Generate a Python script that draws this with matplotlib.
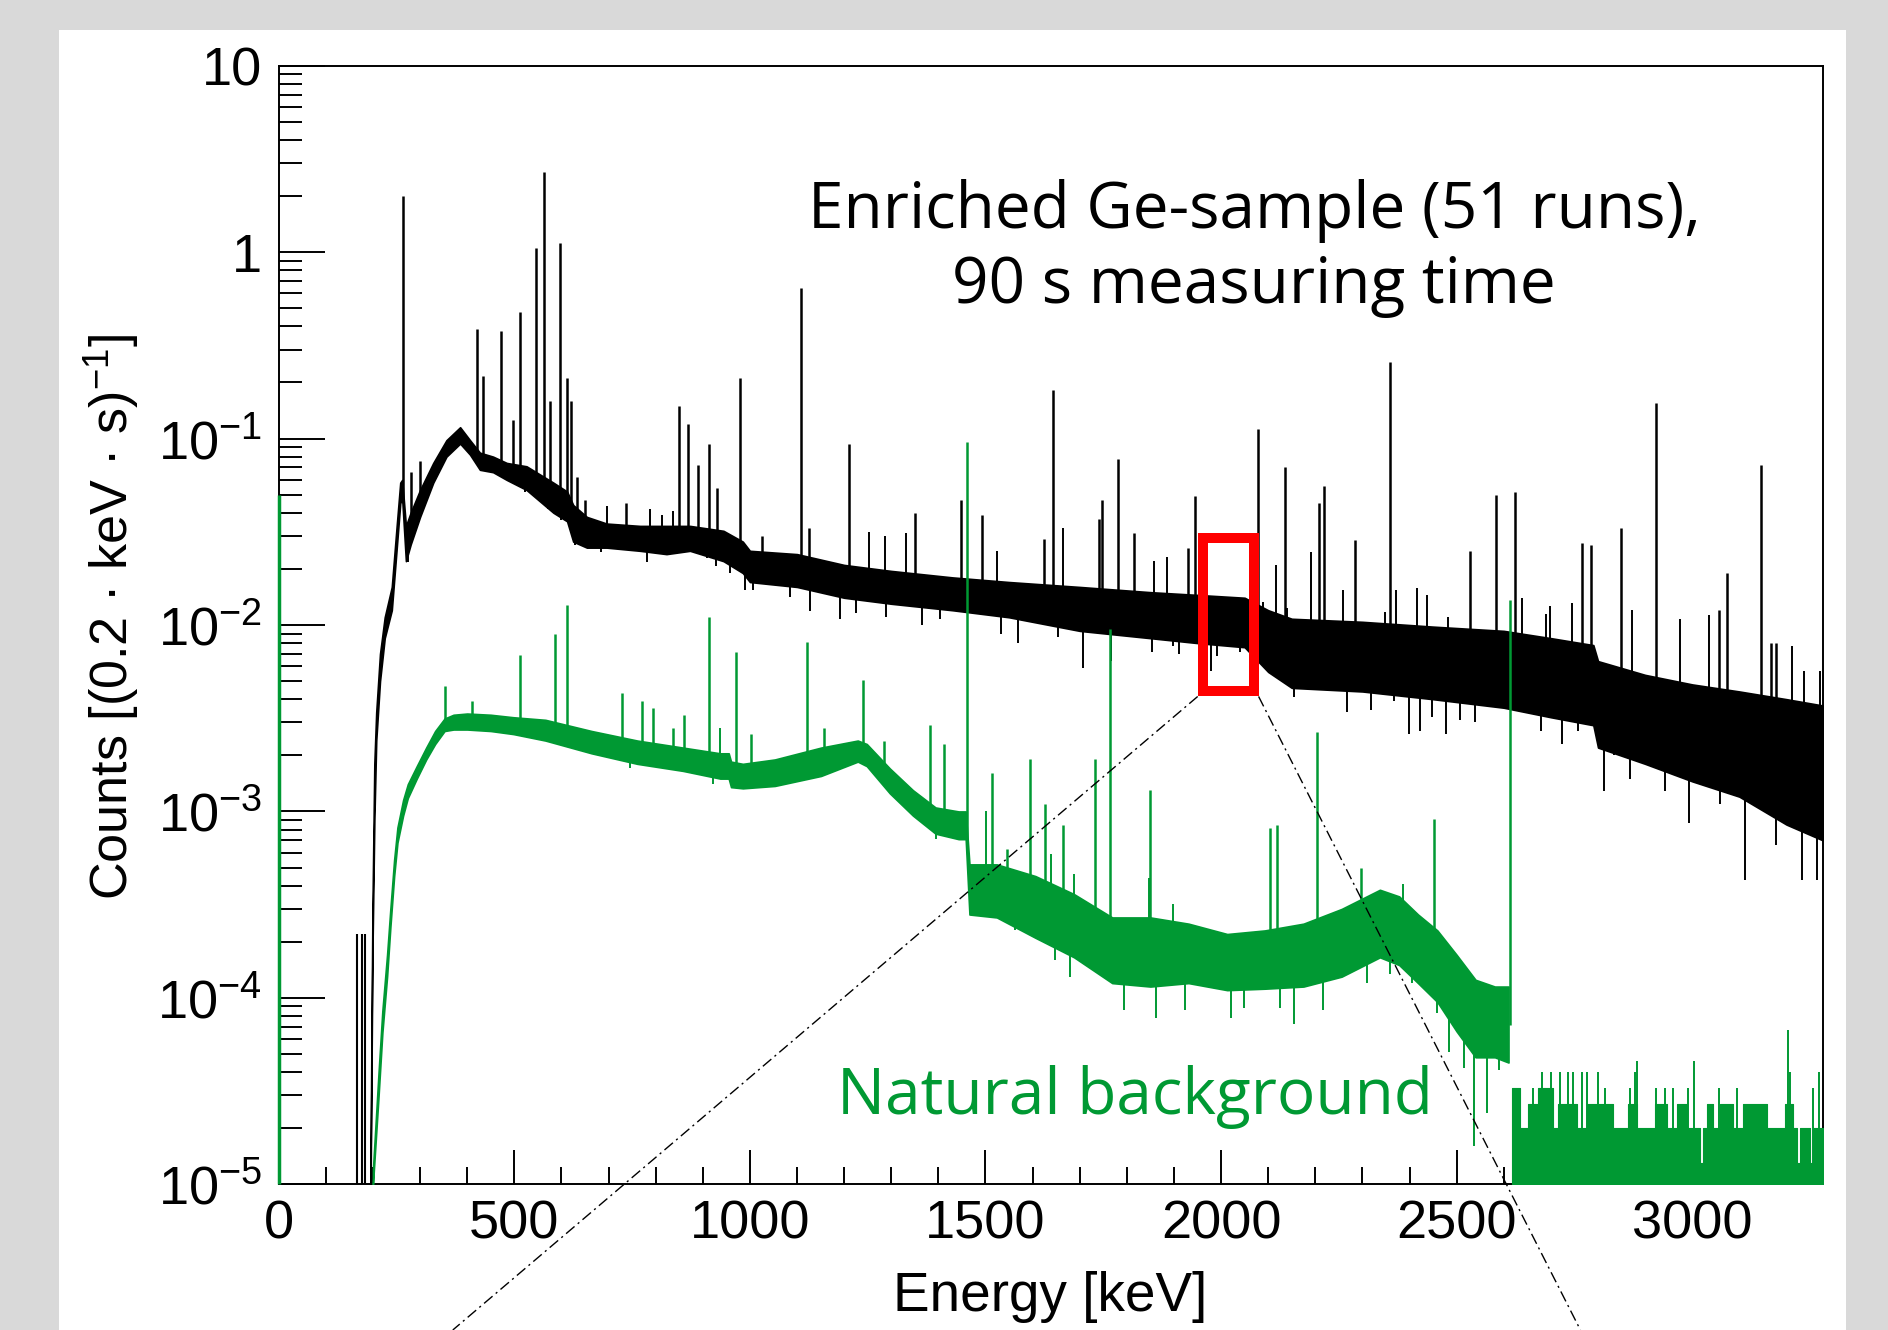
import numpy as np
import matplotlib
matplotlib.use('Agg')
import matplotlib.pyplot as plt
from matplotlib.patches import Rectangle
from matplotlib.lines import Line2D
from matplotlib.ticker import FixedLocator, FixedFormatter, MultipleLocator, LogLocator, NullFormatter

plt.rcParams['font.family'] = ['Liberation Sans', 'DejaVu Sans']
plt.rcParams['mathtext.fontset'] = 'custom'
plt.rcParams['mathtext.rm'] = 'Liberation Sans'
plt.rcParams['mathtext.it'] = 'Liberation Sans:italic'
plt.rcParams['mathtext.bf'] = 'Liberation Sans:bold'

GREEN = '#009933'

# --- enriched Ge sample: continuum band (keV, lower / upper edge of the dense band)
black_e = [195, 199, 203, 207, 215, 225, 240, 250, 258, 262, 270, 280, 300, 328, 356, 385,
           406, 427, 455, 484, 526, 583, 612, 625, 654, 696, 767, 823, 873, 944, 985, 1000,
           1100, 1200, 1300, 1430, 1550, 1700, 1850, 1950, 2050, 2100, 2150, 2300, 2450,
           2600, 2700, 2790, 2800, 2900, 3000, 3100, 3200, 3277]
black_lo = [1.0e-5, 1.8e-4, 9e-4, 2.4e-3, 5e-3, 8.5e-3, 1.2e-2, 2.5e-2, 4.5e-2, 4.8e-2, 2.2e-2,
            2.7e-2, 3.8e-2, 5.8e-2, 8.0e-2, 9.4e-2, 8.2e-2, 6.8e-2, 6.6e-2, 6.0e-2, 5.3e-2,
            4.0e-2, 3.6e-2, 2.8e-2, 2.6e-2, 2.6e-2, 2.5e-2, 2.4e-2, 2.5e-2, 2.2e-2, 1.9e-2,
            1.7e-2, 1.6e-2, 1.4e-2, 1.3e-2, 1.2e-2, 1.1e-2, 9.3e-3, 8.5e-3, 8.0e-3, 7.6e-3,
            5.6e-3, 4.6e-3, 4.4e-3, 4.0e-3, 3.6e-3, 3.2e-3, 2.9e-3, 2.2e-3, 1.8e-3, 1.45e-3,
            1.2e-3, 8.5e-4, 7.0e-4]
black_hi = [1.4e-5, 3.0e-4, 1.8e-3, 3.4e-3, 7e-3, 1.1e-2, 1.6e-2, 3.3e-2, 5.8e-2, 6.0e-2, 3.4e-2,
            4.0e-2, 5.3e-2, 7.4e-2, 9.8e-2, 0.115, 9.8e-2, 8.4e-2, 8.0e-2, 7.4e-2, 7.1e-2,
            5.8e-2, 5.2e-2, 4.4e-2, 3.8e-2, 3.5e-2, 3.4e-2, 3.4e-2, 3.4e-2, 3.2e-2, 2.8e-2,
            2.5e-2, 2.4e-2, 2.1e-2, 1.95e-2, 1.8e-2, 1.7e-2, 1.6e-2, 1.5e-2, 1.45e-2, 1.4e-2,
            1.2e-2, 1.08e-2, 1.04e-2, 9.8e-3, 9.3e-3, 8.5e-3, 7.8e-3, 6.4e-3, 5.4e-3, 4.8e-3,
            4.4e-3, 4.0e-3, 3.7e-3]

# gamma lines on top of the enriched sample continuum (keV, peak height)
black_peak_e = [264, 280, 300, 420, 434, 471, 497, 512, 547, 564, 576, 597, 611, 620, 634, 650,
                738, 850, 869, 890, 913, 931, 979, 1025, 1109, 1126, 1210, 1351, 1447, 1492,
                1625, 1643, 1740, 1748, 1781, 1815, 1930, 1944, 2078, 2135, 2208, 2219, 2285,
                2358, 2528, 2583, 2623, 2766, 2786, 2849, 2923, 3057, 3074, 3146, 3167, 3177]
black_peak_h = [2.0, 0.066, 0.076, 0.385, 0.216, 0.377, 0.125, 0.48, 1.05, 2.7, 0.16, 1.12, 0.21,
                0.16, 0.062, 0.047, 0.045, 0.15, 0.12, 0.072, 0.094, 0.054, 0.21, 0.030, 0.64,
                0.033, 0.094, 0.040, 0.047, 0.039, 0.029, 0.183, 0.037, 0.047, 0.078, 0.031,
                0.026, 0.049, 0.112, 0.070, 0.045, 0.056, 0.0285, 0.258, 0.025, 0.050, 0.052,
                0.0275, 0.027, 0.033, 0.155, 0.012, 0.019, 0.0725, 0.008, 0.008]

# statistical fluctuations poking out of the band (keV, tip value)
black_noise_e = [275, 523, 572, 600, 629, 685, 697, 781, 789, 813, 837, 908, 929, 958, 990, 1007,
                 1085, 1127, 1191, 1225, 1252, 1286, 1289, 1331, 1365, 1403, 1525, 1532, 1570,
                 1654, 1665, 1707, 1767, 1854, 1858, 1885, 1899, 1911, 1979, 1991, 2040, 2089,
                 2116, 2138, 2139, 2154, 2190, 2204, 2230, 2259, 2268, 2318, 2348, 2368, 2372,
                 2398, 2416, 2423, 2438, 2448, 2478, 2481, 2508, 2538, 2638, 2648, 2678, 2690,
                 2698, 2723, 2745, 2757, 2813, 2833, 2857, 2868, 2873, 2898, 2943, 2968, 2975,
                 2993, 3018, 3036, 3058, 3087, 3111, 3148, 3177, 3207, 3212, 3232, 3237, 3247,
                 3265, 3272]
black_noise_v = [0.0217, 0.0517, 0.042, 0.0366, 0.0268, 0.0245, 0.0435, 0.0217, 0.042, 0.039,
                 0.041, 0.0228, 0.0206, 0.019, 0.0154, 0.0154, 0.0142, 0.0119, 0.0108, 0.0116,
                 0.0316, 0.030, 0.011, 0.031, 0.0100, 0.0108, 0.025, 0.0090, 0.0080, 0.0086,
                 0.033, 0.0059, 0.0064, 0.0072, 0.0221, 0.0233, 0.0077, 0.0070, 0.0057, 0.0068,
                 0.0072, 0.0133, 0.021, 0.0068, 0.0124, 0.0041, 0.0245, 0.0049, 0.0049, 0.0154,
                 0.0034, 0.0035, 0.0117, 0.0039, 0.0154, 0.0026, 0.0158, 0.0027, 0.0145, 0.0032,
                 0.0026, 0.0111, 0.0031, 0.0030, 0.014, 0.0036, 0.0027, 0.0115, 0.0126, 0.0023,
                 0.0131, 0.0027, 0.00129, 0.0020, 0.0020, 0.0015, 0.012, 0.0023, 0.00129, 0.0017,
                 0.0108, 0.00087, 0.00175, 0.0113, 0.0011, 0.00127, 4.3e-4, 0.0012, 6.6e-4,
                 9.2e-4, 0.0077, 4.3e-4, 0.0057, 7.7e-4, 4.3e-4, 0.0057]

# isolated low-energy bins of the enriched sample
black_low_e = [166, 176, 184]
black_low_h = [2.2e-4, 2.2e-4, 2.2e-4]

# --- natural background: continuum band
green_e = [200, 212, 220, 230, 237, 245, 252, 264, 274, 293, 313, 332, 352, 371, 400, 450, 498,
           566, 664, 761, 858, 937, 955, 960, 985, 1053, 1151, 1229, 1248, 1297, 1346, 1394,
           1443, 1458, 1466, 1524, 1606, 1688, 1769, 1850, 1931, 2013, 2093, 2175, 2256, 2337,
           2378, 2418, 2459, 2500, 2540, 2581, 2610]
green_lo = [1.0e-5, 3e-5, 6.5e-5, 1.3e-4, 2.4e-4, 4.5e-4, 6.8e-4, 9.5e-4, 1.18e-3, 1.5e-3, 1.9e-3,
            2.3e-3, 2.7e-3, 2.75e-3, 2.75e-3, 2.7e-3, 2.6e-3, 2.4e-3, 2.05e-3, 1.8e-3, 1.65e-3,
            1.5e-3, 1.5e-3, 1.35e-3, 1.33e-3, 1.37e-3, 1.55e-3, 1.85e-3, 1.75e-3, 1.25e-3, 9.5e-4,
            7.6e-4, 7.1e-4, 7.1e-4, 2.8e-4, 2.7e-4, 2.1e-4, 1.65e-4, 1.2e-4, 1.15e-4, 1.2e-4,
            1.1e-4, 1.12e-4, 1.15e-4, 1.3e-4, 1.65e-4, 1.5e-4, 1.2e-4, 9.5e-5, 6.6e-5, 4.8e-5,
            4.8e-5, 4.5e-5]
green_hi = [1.2e-5, 4e-5, 8.5e-5, 1.7e-4, 3.0e-4, 5.5e-4, 8.2e-4, 1.15e-3, 1.4e-3, 1.75e-3, 2.2e-3,
            2.7e-3, 3.15e-3, 3.3e-3, 3.35e-3, 3.3e-3, 3.2e-3, 3.1e-3, 2.7e-3, 2.4e-3, 2.2e-3,
            2.05e-3, 2.05e-3, 1.85e-3, 1.8e-3, 1.9e-3, 2.2e-3, 2.4e-3, 2.3e-3, 1.7e-3, 1.3e-3,
            1.05e-3, 1.0e-3, 1.0e-3, 5.2e-4, 5.2e-4, 4.5e-4, 3.6e-4, 2.7e-4, 2.7e-4, 2.5e-4,
            2.2e-4, 2.3e-4, 2.5e-4, 3.0e-4, 3.8e-4, 3.5e-4, 2.8e-4, 2.3e-4, 1.7e-4, 1.25e-4,
            1.15e-4, 1.15e-4]

green_peak_e = [352, 410, 512, 586, 611, 728, 771, 795, 837, 861, 914, 971, 1002, 1121, 1158,
                1239, 1285, 1382, 1411, 1461, 1513, 1546, 1594, 1627, 1665, 1733, 1764, 1850,
                2103, 2118, 2204, 2297, 2451, 2614]
green_peak_h = [4.7e-3, 3.9e-3, 6.9e-3, 8.9e-3, 1.28e-2, 4.3e-3, 3.9e-3, 3.6e-3, 2.8e-3, 3.3e-3,
                1.1e-2, 7.2e-3, 2.6e-3, 8.1e-3, 2.8e-3, 5.1e-3, 2.4e-3, 2.9e-3, 2.3e-3, 0.096,
                1.6e-3, 6.3e-4, 1.9e-3, 1.1e-3, 8.5e-4, 1.9e-3, 9.5e-3, 1.3e-3, 8.2e-4, 8.5e-4,
                2.66e-3, 5e-4, 9.1e-4, 0.0137]

green_noise_e = [591, 673, 746, 873, 922, 937, 975, 1029, 1394, 1440, 1472, 1501, 1525, 1562,
                 1610, 1640, 1647, 1679, 1688, 1753, 1793, 1846, 1862, 1899, 1923, 2021, 2049,
                 2126, 2155, 2216, 2309, 2358, 2387, 2406, 2459, 2484, 2516, 2537, 2565, 2589]
green_noise_v = [2.35e-3, 2.0e-3, 1.7e-3, 1.6e-3, 1.4e-3, 2.8e-3, 1.35e-3, 1.35e-3, 7.1e-4, 7.1e-4,
                 3.0e-4, 1.0e-3, 2.8e-4, 2.3e-4, 2.1e-4, 5.9e-4, 1.6e-4, 1.3e-4, 4.6e-4, 1.35e-4,
                 8.6e-5, 4.4e-4, 7.8e-5, 3.2e-4, 8.6e-5, 7.8e-5, 8.8e-5, 8.8e-5, 7.2e-5, 8.6e-5,
                 1.2e-4, 1.35e-4, 4.1e-4, 1.2e-4, 8.3e-5, 5.1e-5, 4.2e-5, 1.6e-5, 2.4e-5, 4.1e-5]

# low-count tail of the background above 2614 keV (segment start, level)
tail_e = [2618, 2634, 2652, 2673, 2705, 2716, 2755, 2776, 2832, 2864, 2882, 2921, 2946, 2967,
          2988, 3016, 3023, 3031, 3045, 3059, 3087, 3108, 3158, 3197, 3214, 3222, 3229, 3250,
          3257, 3277]
tail_v = [3.3e-5, 2.0e-5, 2.7e-5, 3.3e-5, 2.0e-5, 2.7e-5, 2.0e-5, 2.7e-5, 2.0e-5, 2.7e-5,
          2.0e-5, 2.7e-5, 2.0e-5, 2.7e-5, 2.0e-5, 1.3e-5, 2.0e-5, 2.7e-5, 2.0e-5, 2.7e-5,
          2.0e-5, 2.7e-5, 2.0e-5, 2.7e-5, 2.0e-5, 1.3e-5, 2.0e-5, 1.3e-5, 2.0e-5, 2.0e-5]
tail_spike_e = [2663, 2682, 2700, 2719, 2737, 2747, 2765, 2776, 2800, 2815, 2868, 2878, 2883, 2924,
                2943, 2960, 2991, 3004, 3057, 3094, 3204, 3207, 3257, 3270]
tail_spike_v = [3.3e-5, 4.0e-5, 4.0e-5, 4.0e-5, 4.0e-5, 4.0e-5, 4.0e-5, 4.0e-5, 4.0e-5, 3.3e-5,
                3.3e-5, 4.0e-5, 4.6e-5, 3.3e-5, 3.3e-5, 3.3e-5, 3.3e-5, 4.6e-5, 3.3e-5, 3.3e-5,
                6.7e-5, 4.0e-5, 3.3e-5, 4.0e-5]

# region of interest box (keV, counts)
roi_e = [1961, 2069]
roi_c = [0.0044, 0.0294]

ytick_vals = [1e-5, 1e-4, 1e-3, 1e-2, 1e-1, 1, 10]
ytick_text = ['$10^{-5}$', '$10^{-4}$', '$10^{-3}$', '$10^{-2}$', '$10^{-1}$', '1', '10']

W, H = 1888, 1330
fig = plt.figure(figsize=(W / 100, H / 100), dpi=100)
fig.patch.set_facecolor('#d9d9d9')
fig.add_artist(Rectangle((59 / W, 0), (1846 - 59) / W, (H - 30) / H, transform=fig.transFigure,
                         facecolor='white', edgecolor='none', zorder=0))

ax = fig.add_axes([278.7 / W, 1 - 1184.3 / H, 1544 / W, 1118.6 / H])
ax.set_yscale('log')
ax.set_xlim(0, 3276.8)
ax.set_ylim(1e-5, 10)


def band_mid(e, lo, hi, x):
    mid = 0.5 * (np.log10(lo) + np.log10(hi))
    return 10 ** np.interp(x, e, mid)


# enriched sample
ax.fill_between(black_e, black_lo, black_hi, color='black', lw=1.2, zorder=2)
ax.vlines(black_noise_e, band_mid(black_e, black_lo, black_hi, black_noise_e), black_noise_v,
          color='black', lw=1.4, zorder=2)
ax.vlines(black_peak_e, band_mid(black_e, black_lo, black_hi, black_peak_e), black_peak_h,
          color='black', lw=1.8, zorder=2)
ax.vlines(black_low_e, 1e-5, black_low_h, color='black', lw=1.5, zorder=2)

# natural background
ax.fill_between(green_e, green_lo, green_hi, color=GREEN, lw=1.2, zorder=3)
ax.vlines(green_noise_e, band_mid(green_e, green_lo, green_hi, green_noise_e), green_noise_v,
          color=GREEN, lw=1.4, zorder=3)
ax.vlines(green_peak_e, band_mid(green_e, green_lo, green_hi, green_peak_e), green_peak_h,
          color=GREEN, lw=1.8, zorder=3)
ax.fill_between(tail_e, 1e-5, tail_v, step='post', color=GREEN, lw=0.8, zorder=3)
ax.vlines(tail_spike_e, 1e-5, tail_spike_v, color=GREEN, lw=1.4, zorder=3)
ax.vlines([0], 1e-5, 0.05, color=GREEN, lw=2.5, zorder=6, clip_on=False)

# ROI box
ax.add_patch(Rectangle((roi_e[0], roi_c[0]), roi_e[1] - roi_e[0], roi_c[1] - roi_c[0],
                       fill=False, edgecolor='#ff0000', lw=7.2, zorder=7))

# axes style (ROOT look)
for s in ax.spines.values():
    s.set_linewidth(1.4)
ax.xaxis.set_major_locator(MultipleLocator(500))
ax.xaxis.set_minor_locator(MultipleLocator(100))
ax.yaxis.set_major_locator(FixedLocator(ytick_vals))
ax.yaxis.set_major_formatter(FixedFormatter(ytick_text))
ax.yaxis.set_minor_locator(LogLocator(base=10, subs=np.arange(2, 10), numticks=30))
ax.yaxis.set_minor_formatter(NullFormatter())
ax.tick_params(which='both', direction='in', top=False, right=False, width=1.4, labelsize=39)
ax.tick_params(axis='x', which='major', length=24.5, pad=11)
ax.tick_params(axis='x', which='minor', length=12.2)
ax.tick_params(axis='y', which='major', length=33, pad=12)
ax.tick_params(axis='y', which='minor', length=16.5)

# labels
fig.text(1050 / W, (H - 1311) / H, 'Energy [keV]', ha='center', va='baseline', fontsize=39.5)
fig.text(142 / W, 1 - 617 / H, 'Counts [(0.2 · keV · s)$^{-1}$]', rotation=90,
         ha='right', va='center', fontsize=37.5)

ax.text(0.6317, 0.8552, 'Enriched Ge-sample (51 runs),', transform=ax.transAxes,
        ha='center', va='baseline', fontsize=46, family='Open Sans', zorder=8)
ax.text(0.6317, 0.7876, '90 s measuring time', transform=ax.transAxes,
        ha='center', va='baseline', fontsize=46, family='Open Sans', zorder=8)
ax.text(0.5545, 0.0628, 'Natural background', transform=ax.transAxes, color=GREEN,
        ha='center', va='baseline', fontsize=46, family='Open Sans', zorder=8)

# dash-dot connectors from the box corners down to the figure bottom
to_fig = fig.transFigure.inverted()
half = 7.2 * 100 / 72 / 2
c_left = ax.transData.transform((roi_e[0], roi_c[0])) + np.array([-half, -half])
c_right = ax.transData.transform((roi_e[1], roi_c[0])) + np.array([half, -half])
for corner, x_end in [(c_left, 452.8), (c_right, 1580.4)]:
    p0 = to_fig.transform(corner)
    fig.add_artist(Line2D([p0[0], x_end / W], [p0[1], 0], transform=fig.transFigure,
                          color='black', lw=1.0, linestyle=(0, (8, 3, 1.5, 3)), zorder=9))

fig.savefig('out.png', dpi=100, facecolor=fig.get_facecolor())
